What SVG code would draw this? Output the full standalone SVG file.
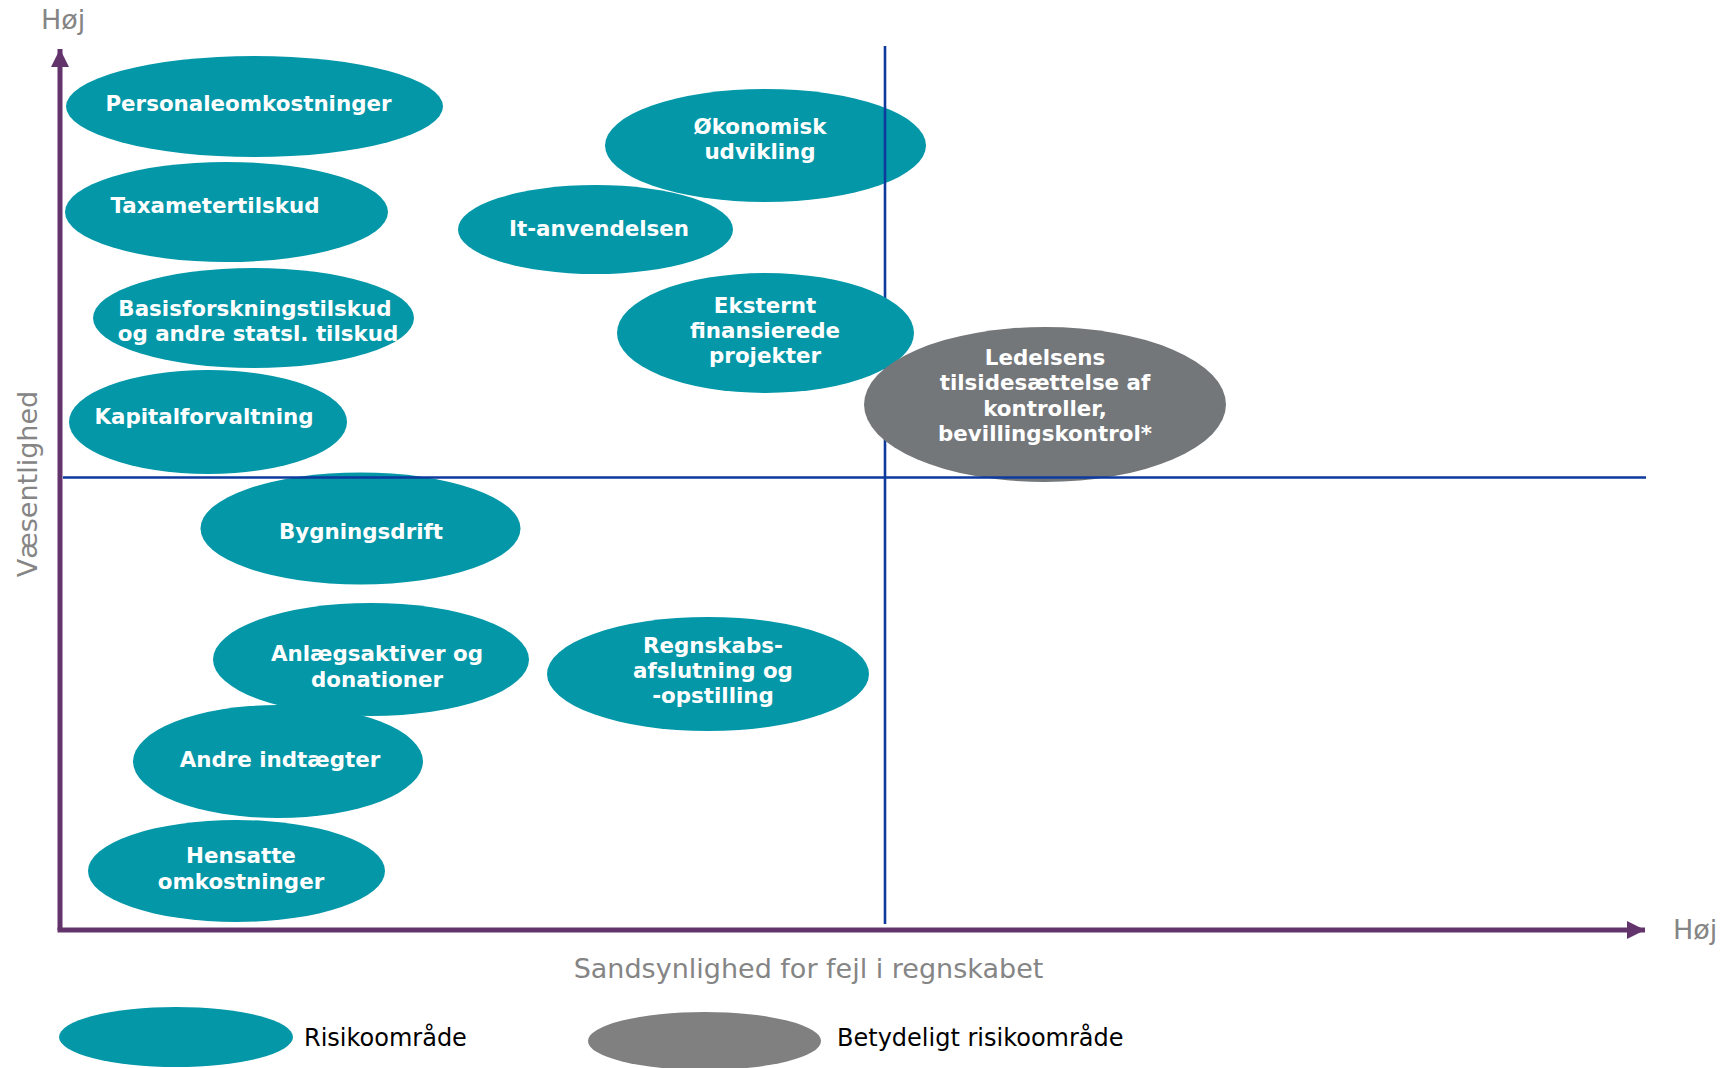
<svg xmlns="http://www.w3.org/2000/svg" width="1721" height="1068" viewBox="0 0 1721 1068">
<style>
.risk{fill:#0397a8}
.sig{fill:#74777a}
.lbl{font-family:"DejaVu Sans","Liberation Sans",sans-serif;font-weight:bold;font-size:21.4px;fill:#ffffff;text-anchor:middle}
.axis{font-family:"DejaVu Sans","Liberation Sans",sans-serif;font-size:27px;fill:#858585}
.leg{font-family:"DejaVu Sans","Liberation Sans",sans-serif;font-size:24px;fill:#000000}
.grid{stroke:#0d3a9c;stroke-width:2.6;fill:none}
.ax{stroke:#62346b;stroke-width:5;fill:none}
</style>
<defs>
<marker id="arr" markerUnits="userSpaceOnUse" markerWidth="20" markerHeight="20" viewBox="0 0 20 20" refX="18" refY="10" orient="auto">
<path d="M0,1 L18,10 L0,19 Z" fill="#62346b"/>
</marker>
</defs>
<rect width="1721" height="1068" fill="#ffffff"/>

<g id="axes">
<line class="ax" x1="60" y1="930" x2="60" y2="49" marker-end="url(#arr)"/>
<line class="ax" x1="57.5" y1="930" x2="1645" y2="930" marker-end="url(#arr)"/>
<text class="axis" x="41" y="29">Høj</text>
<text class="axis" x="1673" y="939">Høj</text>
<text class="axis" x="808.5" y="978" text-anchor="middle">Sandsynlighed for fejl i regnskabet</text>
<text class="axis" x="36.5" y="484" text-anchor="middle" font-size="33" transform="rotate(-90 36.5 484)">Væsentlighed</text>
</g>

<g id="n-personale">
<ellipse class="risk" cx="254.5" cy="106.5" rx="188.5" ry="50.5"/>
<text class="lbl" x="248.5" y="111">Personaleomkostninger</text>
</g>
<g id="n-taxameter">
<ellipse class="risk" cx="226.5" cy="212" rx="161.5" ry="50"/>
<text class="lbl" x="215" y="213">Taxametertilskud</text>
</g>
<g id="n-basis">
<ellipse class="risk" cx="253.5" cy="318" rx="160.5" ry="50"/>
<text class="lbl" x="255" y="316">Basisforskningstilskud</text>
<text class="lbl" x="258" y="341">og andre statsl. tilskud</text>
</g>
<g id="n-kapital">
<ellipse class="risk" cx="208" cy="422" rx="139" ry="52"/>
<text class="lbl" x="204" y="424">Kapitalforvaltning</text>
</g>
<g id="n-oekonomisk">
<ellipse class="risk" cx="765.5" cy="145.5" rx="160.5" ry="56.5"/>
<text class="lbl" x="760" y="134">Økonomisk</text>
<text class="lbl" x="760" y="159">udvikling</text>
</g>
<g id="n-it">
<ellipse class="risk" cx="595.5" cy="229.5" rx="137.5" ry="44.5"/>
<text class="lbl" x="599" y="236">It-anvendelsen</text>
</g>
<g id="n-bygning">
<ellipse class="risk" cx="360.5" cy="528.5" rx="160" ry="56"/>
<text class="lbl" x="361" y="539">Bygningsdrift</text>
</g>
<g id="n-anlaeg">
<ellipse class="risk" cx="371" cy="659.5" rx="158" ry="56.5"/>
<text class="lbl" x="377" y="661">Anlægsaktiver og</text>
<text class="lbl" x="377" y="687">donationer</text>
</g>
<g id="n-regnskab">
<ellipse class="risk" cx="708" cy="674" rx="161" ry="57"/>
<text class="lbl" x="713" y="653">Regnskabs-</text>
<text class="lbl" x="713" y="678">afslutning og</text>
<text class="lbl" x="713" y="703">-opstilling</text>
</g>
<g id="n-andre">
<ellipse class="risk" cx="278" cy="761.5" rx="145" ry="56.5"/>
<text class="lbl" x="280" y="767">Andre indtægter</text>
</g>
<g id="n-hensatte">
<ellipse class="risk" cx="236.5" cy="871" rx="148.5" ry="51"/>
<text class="lbl" x="241" y="863">Hensatte</text>
<text class="lbl" x="241" y="889">omkostninger</text>
</g>

<g id="connectors">
<line class="grid" x1="885" y1="46" x2="885" y2="924"/>
</g>

<g id="n-eksternt">
<ellipse class="risk" cx="765.5" cy="333" rx="148.5" ry="60"/>
<text class="lbl" x="765" y="313">Eksternt</text>
<text class="lbl" x="765" y="338">finansierede</text>
<text class="lbl" x="765" y="363">projekter</text>
</g>
<g id="n-ledelsens">
<ellipse class="sig" cx="1045" cy="404.5" rx="181" ry="77.5"/>
<text class="lbl" x="1045" y="365">Ledelsens</text>
<text class="lbl" x="1045" y="390">tilsidesættelse af</text>
<text class="lbl" x="1045" y="416">kontroller,</text>
<text class="lbl" x="1045" y="441">bevillingskontrol*</text>
</g>

<g id="connectors-h">
<line class="grid" x1="63" y1="477.5" x2="1646" y2="477.5"/>
</g>

<g id="legend">
<ellipse cx="176" cy="1037" rx="117" ry="30" fill="#0397a8"/>
<text class="leg" x="304" y="1046">Risikoområde</text>
<ellipse cx="704.5" cy="1041" rx="116.5" ry="29" fill="#808080"/>
<text class="leg" x="837" y="1046">Betydeligt risikoområde</text>
</g>
</svg>
